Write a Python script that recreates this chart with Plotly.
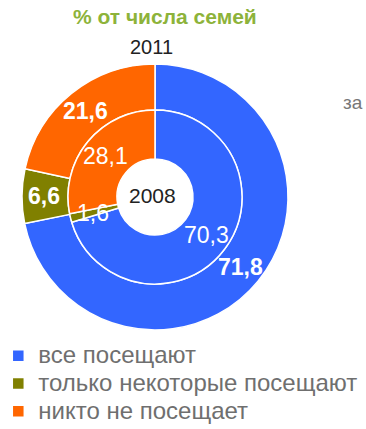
import math
import plotly.graph_objects as go

categories = ["все посещают", "только некоторые посещают", "никто не посещает"]
values_2011 = [71.8, 6.6, 21.6]
values_2008 = [70.3, 1.6, 28.1]
colors = ["#3366FF", "#808000", "#FF6600"]

W, H = 366, 429
cx, cy = 155, 197            # pie centre in figure px
R_out, R_mid, R_in = 133, 87, 38

def fmt(v):
    return f"{v:.1f}".replace(".", ",")

def dom(r):
    return dict(x=[(cx - r) / W, (cx + r) / W], y=[1 - (cy + r) / H, 1 - (cy - r) / H])

def px(x):
    return x / W

def py(y):
    return 1 - y / H

legend_labels = [f'<span style="font-size:24px">{c}</span>' for c in categories]

fig = go.Figure()
fig.add_trace(go.Pie(
    labels=legend_labels, values=values_2011, textinfo="none",
    sort=False, direction="clockwise", rotation=0, hole=R_mid / R_out,
    domain=dom(R_out), marker=dict(colors=colors, line=dict(color="white", width=1.5)),
    showlegend=True, hoverinfo="label+value",
))
fig.add_trace(go.Pie(
    labels=legend_labels, values=values_2008, textinfo="none",
    sort=False, direction="clockwise", rotation=0, hole=R_in / R_mid,
    domain=dom(R_mid), marker=dict(colors=colors, line=dict(color="white", width=1.5)),
    showlegend=False, hoverinfo="label+value",
))

# value labels at each slice's mid-angle (derived from the data)
def ring_labels(values, r_text, bold):
    out = []
    total = sum(values)
    cum = 0.0
    for v in values:
        a = 2 * math.pi * (cum + v / 2) / total
        cum += v
        x = cx + r_text * math.sin(a)
        y = cy - r_text * math.cos(a)
        t = fmt(v)
        out.append(dict(text=f"<b>{t}</b>" if bold else t, x=x / W, y=1 - y / H,
                        xref="paper", yref="paper", showarrow=False,
                        xanchor="center", yanchor="middle",
                        font=dict(size=23, color="white", family="Liberation Sans")))
    return out

ann_common = dict(xref="paper", yref="paper", showarrow=False, xanchor="center", yanchor="middle")
annotations = ring_labels(values_2011, 111, True) + ring_labels(values_2008, 64, False) + [
    dict(text="<b>% от числа семей</b>", x=px(165), y=py(17),
         font=dict(size=21, color="#8DB33A"), **ann_common),
    dict(text="2011", x=px(151), y=py(47),
         font=dict(size=20, color="#222222"), **ann_common),
    dict(text="2008", x=px(152), y=py(195),
         font=dict(size=21, color="#222222"), **ann_common),
    dict(text="за", x=px(353), y=py(103),
         font=dict(size=19, color="#777777"), **ann_common),
]

fig.update_layout(
    width=W, height=H, margin=dict(l=0, r=0, t=0, b=0, autoexpand=False),
    paper_bgcolor="white", plot_bgcolor="white",
    font=dict(family="Liberation Sans"),
    legend=dict(x=-1.7 / W, y=py(337), xanchor="left", yanchor="top",
                font=dict(size=19, color="#6f6f6f"), tracegroupgap=0),
    annotations=annotations,
)
fig.write_html("out.html", config={"displayModeBar": False},
               post_script="document.body.style.margin='0px';")
